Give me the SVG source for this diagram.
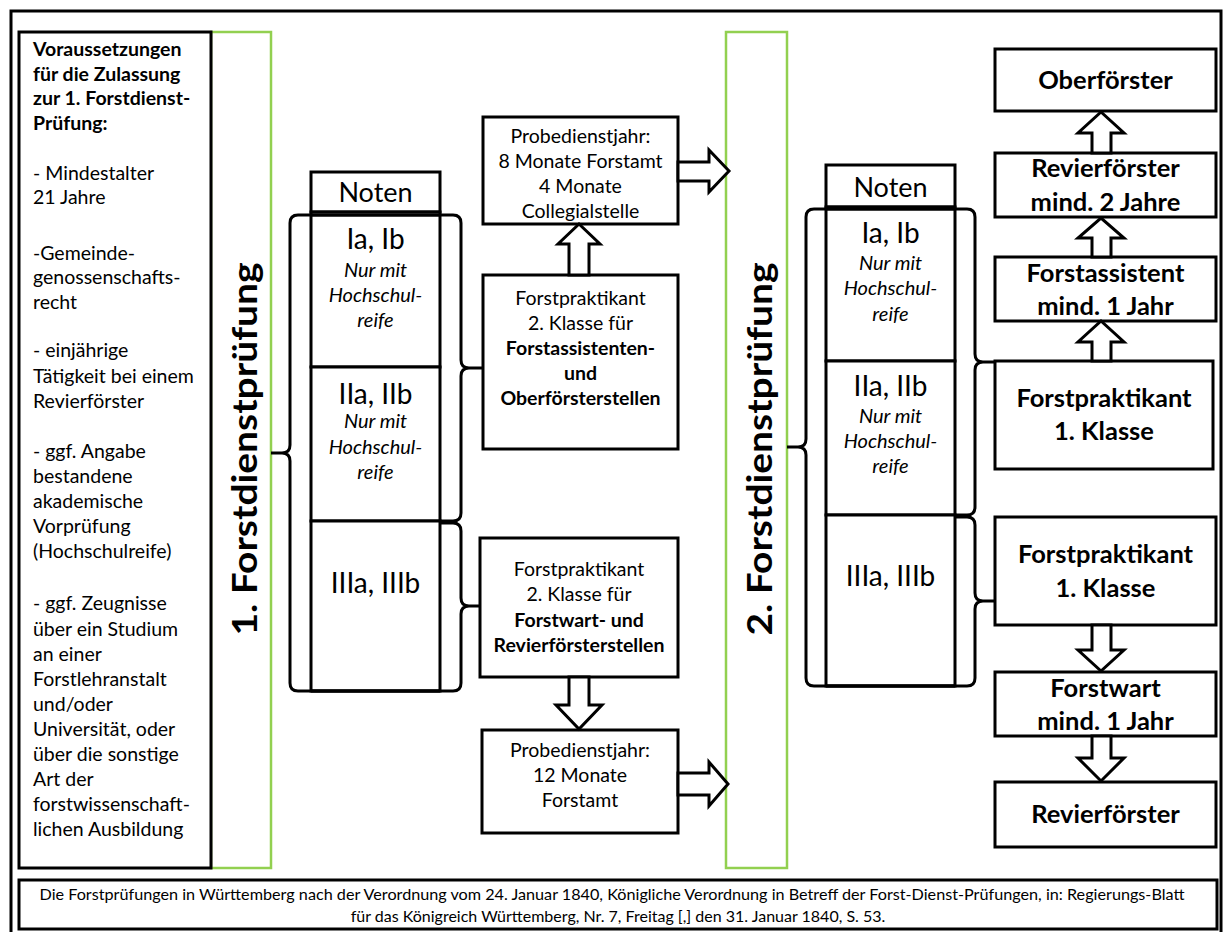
<svg xmlns="http://www.w3.org/2000/svg" width="1225" height="932" viewBox="0 0 1225 932">
  <style>
    .box { fill: #ffffff; stroke: #000000; stroke-width: 3; }
    .exam { fill: #ffffff; stroke: #92d050; stroke-width: 2.5; }
    .line { fill: none; stroke: #000000; stroke-width: 3; stroke-linejoin: round; }
    .arrow { fill: #ffffff; stroke: #000000; stroke-width: 3; stroke-linejoin: miter; }
    text { font-family: Lato, "Open Sans", sans-serif; fill: #000000; }
    .req { font-size: 19.5px; }
    .b { font-weight: bold; }
    .mid { font-size: 19.5px; text-anchor: middle; }
    .hdr { font-size: 27px; text-anchor: middle; }
    .grade { font-size: 28px; text-anchor: middle; }
    .note { font-size: 20px; font-style: italic; text-anchor: middle; }
    .rank { font-size: 25.5px; font-weight: bold; text-anchor: middle; }
    .title { font-size: 35px; font-weight: bold; text-anchor: middle; }
    .foot { font-size: 16px; text-anchor: middle; }
  </style>

  <rect x="0" y="0" width="1225" height="932" fill="#ffffff"/>
  <!-- outer frame -->
  <rect x="11" y="11" width="1210" height="940" fill="none" stroke="#000000" stroke-width="3"/>

  <!-- exam columns -->
  <g id="exam1">
    <rect class="exam" x="211" y="32" width="60" height="836"/>
    <text class="title" transform="translate(257,449) rotate(-90)" textLength="373" lengthAdjust="spacingAndGlyphs">1. Forstdienstprüfung</text>
  </g>
  <g id="exam2">
    <rect class="exam" x="726" y="32" width="61" height="836"/>
    <text class="title" transform="translate(772,449) rotate(-90)" textLength="373" lengthAdjust="spacingAndGlyphs">2. Forstdienstprüfung</text>
  </g>

  <!-- admission requirements -->
  <g id="requirements">
    <rect class="box" x="19" y="32" width="192" height="836"/>
    <text class="req b" x="33" y="56">Voraussetzungen</text>
    <text class="req b" x="33" y="81">für die Zulassung</text>
    <text class="req b" x="33" y="105">zur 1. Forstdienst-</text>
    <text class="req b" x="33" y="130">Prüfung:</text>
    <text class="req" x="33" y="180">- Mindestalter</text>
    <text class="req" x="33" y="204">21 Jahre</text>
    <text class="req" x="33" y="260">-Gemeinde-</text>
    <text class="req" x="33" y="284">genossenschafts-</text>
    <text class="req" x="33" y="309">recht</text>
    <text class="req" x="33" y="357">- einjährige</text>
    <text class="req" x="33" y="383">Tätigkeit bei einem</text>
    <text class="req" x="33" y="408">Revierförster</text>
    <text class="req" x="33" y="458">- ggf. Angabe</text>
    <text class="req" x="33" y="483">bestandene</text>
    <text class="req" x="33" y="508">akademische</text>
    <text class="req" x="33" y="533">Vorprüfung</text>
    <text class="req" x="33" y="558">(Hochschulreife)</text>
    <text class="req" x="33" y="610">- ggf. Zeugnisse</text>
    <text class="req" x="33" y="636">über ein Studium</text>
    <text class="req" x="33" y="661">an einer</text>
    <text class="req" x="33" y="686">Forstlehranstalt</text>
    <text class="req" x="33" y="711">und/oder</text>
    <text class="req" x="33" y="736">Universität, oder</text>
    <text class="req" x="33" y="761">über die sonstige</text>
    <text class="req" x="33" y="786">Art der</text>
    <text class="req" x="33" y="811">forstwissenschaft-</text>
    <text class="req" x="33" y="836">lichen Ausbildung</text>
  </g>

  <!-- grades after exam 1 -->
  <g id="grades1">
    <rect class="box" x="311" y="172" width="129" height="40"/>
    <rect class="box" x="311" y="212" width="129" height="155"/>
    <rect class="box" x="311" y="367" width="129" height="154"/>
    <rect class="box" x="311" y="521" width="129" height="170"/>
    <text class="hdr" x="375.5" y="202">Noten</text>
    <text class="grade" x="375.5" y="249">Ia, Ib</text>
    <text class="note" x="375.5" y="277">Nur mit</text>
    <text class="note" x="375.5" y="302">Hochschul-</text>
    <text class="note" x="375.5" y="327">reife</text>
    <text class="grade" x="375.5" y="404">IIa, IIb</text>
    <text class="note" x="375.5" y="428">Nur mit</text>
    <text class="note" x="375.5" y="454">Hochschul-</text>
    <text class="note" x="375.5" y="479">reife</text>
    <text class="grade" x="375.5" y="593">IIIa, IIIb</text>
  </g>

  <!-- grades after exam 2 -->
  <g id="grades2">
    <rect class="box" x="826" y="165" width="129" height="42"/>
    <rect class="box" x="826" y="207" width="129" height="154"/>
    <rect class="box" x="826" y="361" width="129" height="154"/>
    <rect class="box" x="826" y="515" width="129" height="171"/>
    <text class="hdr" x="890.5" y="197">Noten</text>
    <text class="grade" x="890.5" y="243">Ia, Ib</text>
    <text class="note" x="890.5" y="270">Nur mit</text>
    <text class="note" x="890.5" y="295">Hochschul-</text>
    <text class="note" x="890.5" y="321">reife</text>
    <text class="grade" x="890.5" y="396">IIa, IIb</text>
    <text class="note" x="890.5" y="423">Nur mit</text>
    <text class="note" x="890.5" y="448">Hochschul-</text>
    <text class="note" x="890.5" y="473">reife</text>
    <text class="grade" x="890.5" y="586">IIIa, IIIb</text>
  </g>

  <!-- trainee posts after exam 1 -->
  <g id="trial-upper">
    <rect class="box" x="483" y="117" width="195" height="107"/>
    <text class="mid" x="580.5" y="143">Probedienstjahr:</text>
    <text class="mid" x="580.5" y="168">8 Monate Forstamt</text>
    <text class="mid" x="580.5" y="193">4 Monate</text>
    <text class="mid" x="580.5" y="218">Collegialstelle</text>
  </g>
  <g id="trainee-upper">
    <rect class="box" x="483" y="275" width="195" height="174"/>
    <text class="mid" x="580.5" y="305">Forstpraktikant</text>
    <text class="mid" x="580.5" y="330">2. Klasse für</text>
    <text class="mid b" x="580.5" y="355">Forstassistenten-</text>
    <text class="mid b" x="580.5" y="380">und</text>
    <text class="mid b" x="580.5" y="405">Oberförsterstellen</text>
  </g>
  <g id="trainee-lower">
    <rect class="box" x="480" y="538" width="198" height="139"/>
    <text class="mid" x="579" y="576">Forstpraktikant</text>
    <text class="mid" x="579" y="601">2. Klasse für</text>
    <text class="mid b" x="579" y="627">Forstwart- und</text>
    <text class="mid b" x="579" y="652">Revierförsterstellen</text>
  </g>
  <g id="trial-lower">
    <rect class="box" x="482" y="730" width="196" height="103"/>
    <text class="mid" x="580" y="757">Probedienstjahr:</text>
    <text class="mid" x="580" y="782">12 Monate</text>
    <text class="mid" x="580" y="807">Forstamt</text>
  </g>

  <!-- career posts after exam 2 -->
  <g id="oberfoerster">
    <rect class="box" x="995" y="49" width="221" height="62"/>
    <text class="rank" x="1105.5" y="89">Oberförster</text>
  </g>
  <g id="revierfoerster-2j">
    <rect class="box" x="995" y="153" width="221" height="64"/>
    <text class="rank" x="1105.5" y="177">Revierförster</text>
    <text class="rank" x="1105.5" y="211">mind. 2 Jahre</text>
  </g>
  <g id="forstassistent">
    <rect class="box" x="995" y="257" width="221" height="64"/>
    <text class="rank" x="1105.5" y="282">Forstassistent</text>
    <text class="rank" x="1105.5" y="315">mind. 1 Jahr</text>
  </g>
  <g id="praktikant1-upper">
    <rect class="box" x="995" y="361" width="218" height="108"/>
    <text class="rank" x="1104" y="407">Forstpraktikant</text>
    <text class="rank" x="1104" y="440">1. Klasse</text>
  </g>
  <g id="praktikant1-lower">
    <rect class="box" x="995" y="517" width="221" height="108"/>
    <text class="rank" x="1105.5" y="563">Forstpraktikant</text>
    <text class="rank" x="1105.5" y="597">1. Klasse</text>
  </g>
  <g id="forstwart">
    <rect class="box" x="995" y="672" width="221" height="64"/>
    <text class="rank" x="1105.5" y="697">Forstwart</text>
    <text class="rank" x="1105.5" y="730">mind. 1 Jahr</text>
  </g>
  <g id="revierfoerster">
    <rect class="box" x="995" y="782" width="221" height="65"/>
    <text class="rank" x="1105.5" y="823">Revierförster</text>
  </g>

  <!-- braces and block arrows -->
  <g id="connectors">
    <!-- exam 1 to grade table -->
    <path class="line" d="M440,215 H298 Q290,215 290,223 V445 Q290,453 282,453 Q290,453 290,461 V683 Q290,691 298,691 H440 M282,453 H271"/>
    <path class="line" d="M311,215 H453 Q461,215 461,223 V360 Q461,368 469,368 Q461,368 461,376 V513 Q461,521 453,521 H440 M469,368 H483"/>
    <path class="line" d="M440,523 H453 Q461,523 461,531 V598 Q461,606 469,606 Q461,606 461,614 V683 Q461,691 453,691 H311 M469,606 H480"/>

    <!-- exam 2 to grade table -->
    <path class="line" d="M955,209 H814 Q806,209 806,217 V439 Q806,447 798,447 Q806,447 806,455 V678 Q806,686 814,686 H955 M798,447 H787"/>
    <path class="line" d="M826,209 H967 Q975,209 975,217 V354 Q975,362 983,362 Q975,362 975,370 V507 Q975,515 967,515 H955 M983,362 H995"/>
    <path class="line" d="M955,517 H967 Q975,517 975,525 V593 Q975,601 983,601 Q975,601 975,609 V678 Q975,686 967,686 H826 M983,601 H995"/>

    <!-- trainee to trial year -->
    <polygon class="arrow" points="569,275 569,244 558,244 579,224 600,244 589,244 589,275"/>
    <polygon class="arrow" points="569,677 589,677 589,705 602,705 579,729 556,705 569,705"/>
    <!-- trial year to exam 2 -->
    <polygon class="arrow" points="678,162 709,162 709,150 729,171 709,192 709,181 678,181"/>
    <polygon class="arrow" points="678,773 709,773 709,762 728,784 709,806 709,795 678,795"/>

    <!-- upper career path -->
    <polygon class="arrow" points="1092,153 1092,133 1078,133 1101,112 1124,133 1111,133 1111,153"/>
    <polygon class="arrow" points="1092,257 1092,238 1078,238 1101,218 1124,238 1111,238 1111,257"/>
    <polygon class="arrow" points="1092,361 1092,342 1078,342 1101,321 1124,342 1111,342 1111,361"/>
    <!-- lower career path -->
    <polygon class="arrow" points="1092,625 1111,625 1111,650 1124,650 1101,671 1078,650 1092,650"/>
    <polygon class="arrow" points="1092,736 1111,736 1111,758 1124,758 1101,781 1078,758 1092,758"/>
  </g>

  <!-- source note -->
  <g id="source">
    <rect class="box" x="19" y="880" width="1198" height="49"/>
    <text class="foot" x="612" y="900" textLength="1145" lengthAdjust="spacingAndGlyphs">Die Forstprüfungen in Württemberg nach der Verordnung vom 24. Januar 1840, Königliche Verordnung in Betreff der Forst-Dienst-Prüfungen, in: Regierungs-Blatt</text>
    <text class="foot" x="618" y="922">für das Königreich Württemberg, Nr. 7, Freitag [,] den 31. Januar 1840, S. 53.</text>
  </g>
</svg>
